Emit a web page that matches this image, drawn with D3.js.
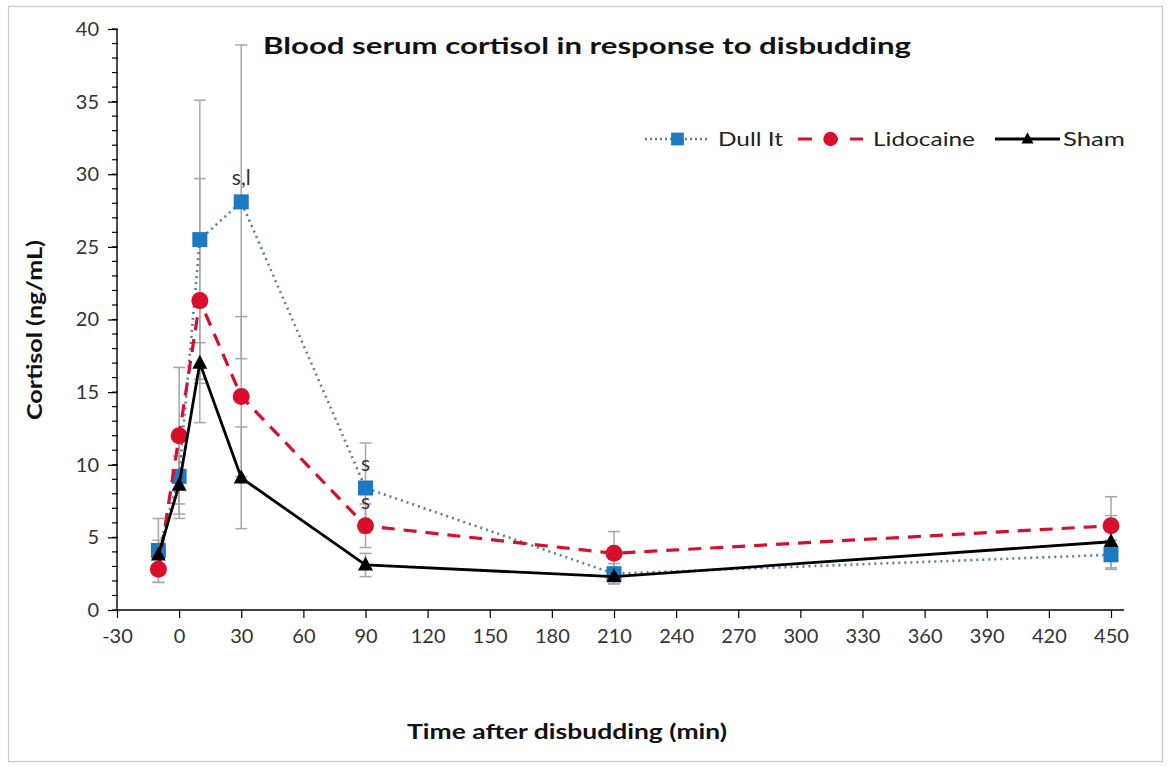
<!DOCTYPE html>
<html>
<head>
<meta charset="utf-8">
<script src="https://cdn.jsdelivr.net/npm/d3@7"></script>
<style>
  html, body { margin: 0; padding: 0; background: #fff; }
  svg { display: block; }
  text { font-family: Lato, "Open Sans", sans-serif; }
</style>
</head>
<body>
<svg id="chart" width="1169" height="767"></svg>
<script>
// ---- data ----
const times = [-10, 0, 10, 30, 90, 210, 450];
const dullIt = [4.1, 9.2, 25.5, 28.1, 8.4, 2.5, 3.8];
const dullItErr = [2.2, 2.9, 9.6, 10.8, 3.1, 0.7, 1.0];
const lidocaine = [2.8, 12.0, 21.3, 14.7, 5.8, 3.9, 5.8];
const lidocaineErr = [0.9, 4.7, 8.4, 5.5, 1.5, 1.5, 2.0];
const sham = [3.8, 8.6, 17.0, 9.1, 3.1, 2.3, 4.7];
const shamErr = [1.0, 2.0, 1.4, 3.5, 0.8, 0.5, 1.8];
const seriesNames = ["Dull It", "Lidocaine", "Sham"];
const xTicks = [-30, 0, 30, 60, 90, 120, 150, 180, 210, 240, 270, 300, 330, 360, 390, 420, 450];
const yTicks = [0, 5, 10, 15, 20, 25, 30, 35, 40];
const annotations = [
  { series: "Dull It", t: 30, label: "s,l" },
  { series: "Dull It", t: 90, label: "s" },
  { series: "Lidocaine", t: 90, label: "s" }
];
const titleText = "Blood serum cortisol in response to disbudding";
const xLabel = "Time after disbudding (min)";
const yLabel = "Cortisol (ng/mL)";

// ---- setup ----
const svg = d3.select("#chart");
svg.append("rect").attr("x", 8.5).attr("y", 6.5).attr("width", 1154).attr("height", 755)
  .attr("fill", "#fff").attr("stroke", "#c8c8c8").attr("stroke-width", 1.2);

const x = d3.scaleLinear().domain([-30, 450]).range([117, 1111]);
const y = d3.scaleLinear().domain([0, 40]).range([610, 29]);

const series = [
  { name: "Dull It", values: dullIt, err: dullItErr, color: "#1B7AC2", lineColor: "#5a7f99", dash: "2,4", width: 2.6, marker: "square" },
  { name: "Lidocaine", values: lidocaine, err: lidocaineErr, color: "#D90E2B", lineColor: "#D90E2B", dash: "13,9", width: 3.2, marker: "circle" },
  { name: "Sham", values: sham, err: shamErr, color: "#000", lineColor: "#000", dash: null, width: 2.8, marker: "triangle" }
];

// ---- axes ----
const axisG = svg.append("g");
const minor = d3.range(0, 41, 1);
axisG.selectAll("line.minor").data(minor).join("line")
  .attr("x1", 112).attr("x2", 118)
  .attr("y1", d => y(d)).attr("y2", d => y(d))
  .attr("stroke", "#000").attr("stroke-width", 1.2);

const yAxis = d3.axisLeft(y).tickValues(yTicks).tickSize(9).tickPadding(6).tickFormat(d => String(d));
const gy = svg.append("g").attr("transform", "translate(117,0)").call(yAxis);
gy.select(".domain").remove();
gy.selectAll(".tick line").attr("stroke", "#000").attr("stroke-width", 1.2);
gy.selectAll(".tick text").attr("font-size", 20).attr("fill", "#333")
  .attr("font-family", "Lato, sans-serif").attr("dx", -3);
svg.append("line").attr("x1", 117).attr("x2", 117).attr("y1", y(40)).attr("y2", y(0))
  .attr("stroke", "#000").attr("stroke-width", 1.4);

const xAxis = d3.axisBottom(x).tickValues(xTicks).tickSize(8).tickPadding(11).tickFormat(d => String(d));
const gx = svg.append("g").attr("transform", "translate(0,610)").call(xAxis);
gx.select(".domain").remove();
gx.selectAll(".tick line").attr("stroke", "#000").attr("stroke-width", 1.2);
gx.selectAll(".tick text").attr("font-size", 20).attr("fill", "#333")
  .attr("font-family", "Lato, sans-serif");
svg.append("line").attr("x1", 117).attr("x2", 1124).attr("y1", 610).attr("y2", 610)
  .attr("stroke", "#000").attr("stroke-width", 1.6);

// ---- error bars ----
const ebG = svg.append("g");
series.forEach(s => {
  const pts = times.map((t, i) => ({ t, v: s.values[i], e: s.err[i] }));
  const g = ebG.append("g");
  g.selectAll("line.v").data(pts).join("line")
    .attr("x1", d => x(d.t)).attr("x2", d => x(d.t))
    .attr("y1", d => y(d.v + d.e)).attr("y2", d => y(d.v - d.e))
    .attr("stroke", "#a6a6a6").attr("stroke-width", 1.5);
  ["+", "-"].forEach(sign => {
    g.selectAll("line.c" + (sign === "+" ? "p" : "m")).data(pts).join("line")
      .attr("x1", d => x(d.t) - 6).attr("x2", d => x(d.t) + 6)
      .attr("y1", d => y(sign === "+" ? d.v + d.e : d.v - d.e))
      .attr("y2", d => y(sign === "+" ? d.v + d.e : d.v - d.e))
      .attr("stroke", "#a6a6a6").attr("stroke-width", 1.5);
  });
});

// ---- lines & markers ----
function drawMarker(g, type, cx, cy, color, scale) {
  scale = scale || 1;
  if (type === "square") {
    const s = 15 * scale;
    g.append("rect").attr("x", cx - s / 2).attr("y", cy - s / 2).attr("width", s).attr("height", s)
      .attr("fill", color);
  } else if (type === "circle") {
    g.append("circle").attr("cx", cx).attr("cy", cy).attr("r", 8.5 * scale).attr("fill", color);
  } else {
    const h = 14 * scale, w = 15 * scale;
    g.append("path").attr("d", `M${cx},${cy - h * 0.6}L${cx + w / 2},${cy + h * 0.4}L${cx - w / 2},${cy + h * 0.4}Z`)
      .attr("fill", color);
  }
}

const line = d3.line().x(d => x(d.t)).y(d => y(d.v));
series.forEach(s => {
  const pts = times.map((t, i) => ({ t, v: s.values[i] }));
  const g = svg.append("g");
  g.append("path").datum(pts).attr("d", line).attr("fill", "none")
    .attr("stroke", s.lineColor).attr("stroke-width", s.width)
    .attr("stroke-dasharray", s.dash).attr("stroke-linejoin", "round");
  pts.forEach(p => drawMarker(g, s.marker, x(p.t), y(p.v), s.color));
});

// ---- annotations ----
annotations.forEach(a => {
  const s = series.find(d => d.name === a.series);
  const i = times.indexOf(a.t);
  svg.append("text").attr("x", x(a.t)).attr("y", y(s.values[i]) - 17)
    .attr("text-anchor", "middle").attr("font-size", 21).attr("fill", "#333")
    .text(a.label);
});

// ---- title & axis labels ----
svg.append("text").attr("x", 587).attr("y", 54).attr("text-anchor", "middle")
  .attr("font-size", 23).attr("font-weight", "bold").attr("fill", "#111")
  .attr("textLength", 648).attr("lengthAdjust", "spacingAndGlyphs").text(titleText);

svg.append("text").attr("x", 567).attr("y", 739).attr("text-anchor", "middle")
  .attr("font-size", 21).attr("font-weight", "bold").attr("fill", "#111")
  .attr("textLength", 320).attr("lengthAdjust", "spacingAndGlyphs").text(xLabel);

svg.append("text").attr("transform", "translate(42,330) rotate(-90)").attr("text-anchor", "middle")
  .attr("font-size", 20).attr("font-weight", "bold").attr("fill", "#111")
  .attr("textLength", 180).attr("lengthAdjust", "spacingAndGlyphs").text(yLabel);

// ---- legend ----
const legendPos = [
  { x0: 645, x1: 710, tx: 718, tw: 65 },
  { x0: 798, x1: 863, tx: 873, tw: 102 },
  { x0: 995, x1: 1060, tx: 1063, tw: 62 }
];
const lg = svg.append("g");
series.forEach((s, i) => {
  const p = legendPos[i];
  const ly = 139;
  lg.append("line").attr("x1", p.x0).attr("x2", p.x1).attr("y1", ly).attr("y2", ly)
    .attr("stroke", s.lineColor).attr("stroke-width", s.width)
    .attr("stroke-dasharray", s.name === "Lidocaine" ? "14,12" : (s.name === "Dull It" ? "2,3" : null));
  drawMarker(lg, s.marker, (p.x0 + p.x1) / 2, ly, s.color, s.marker === "triangle" ? 0.8 : 0.85);
  lg.append("text").attr("x", p.tx).attr("y", ly + 7).attr("font-size", 20).attr("fill", "#222")
    .attr("textLength", p.tw).attr("lengthAdjust", "spacingAndGlyphs").text(seriesNames[i]);
});
</script>
</body>
</html>
